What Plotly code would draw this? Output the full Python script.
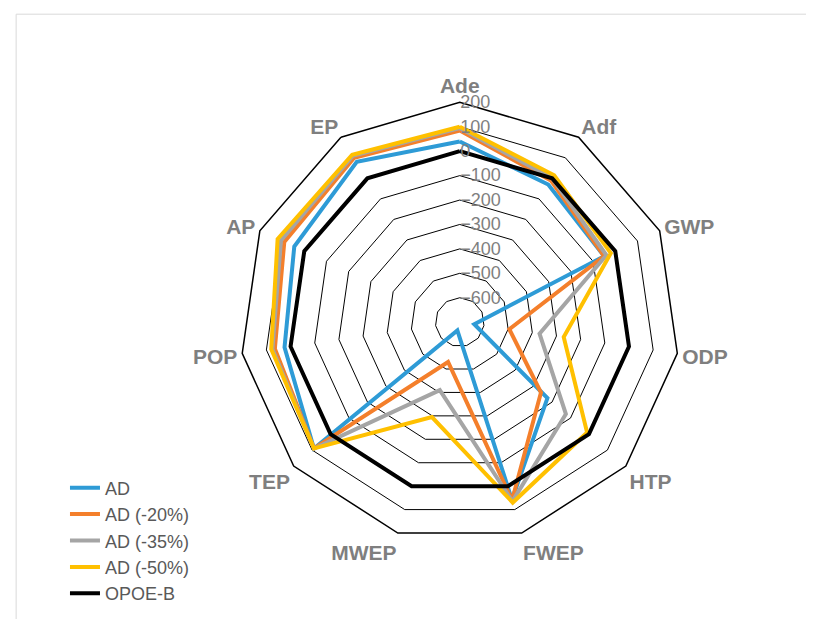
import plotly.graph_objects as go

cats = ["Ade","Adf","GWP","ODP","HTP","FWEP","MWEP","TEP","POP","AP","EP"]
ad    = [40, -30, -50, -640, -225, 58, -665, 90, 25, 45, 80]
ad20  = [85, -10, -50, -495, -260, 60, -530, 90, 65, 90, 100]
ad35  = [95, 0, -40, -370, -125, 65, -410, 90, 75, 105, 110]
ad50  = [100, 15, -20, -270, -10, 70, -295, 90, 80, 120, 115]
opoe  = [0, 0, 0, 0, 0, 0, 0, 0, 0, 0, 0]
names = ["AD","AD (-20%)","AD (-35%)","AD (-50%)","OPOE-B"]
colors = ["#2E9BD6","#F47F2B","#A5A5A5","#FFC000","#000000"]
ticks = [200,100,0,-100,-200,-300,-400,-500,-600]

fig = go.Figure()
for n, v, c in zip(names, [ad, ad20, ad35, ad50, opoe], colors):
    fig.add_trace(go.Scatterpolar(r=v+[v[0]], theta=cats+[cats[0]], mode="lines",
                                  name=n, line=dict(color=c, width=4)))
fig.update_layout(
    width=814, height=619, paper_bgcolor="white", plot_bgcolor="white",
    margin=dict(l=0,r=0,t=0,b=0),
    font=dict(family="Liberation Sans, Arial", color="#7F7F7F"),
    polar=dict(
        domain=dict(x=[0.285,0.825], y=[0.135,0.85]),
        gridshape="linear", bgcolor="white",
        angularaxis=dict(rotation=90, direction="clockwise", linecolor="black",
                         gridcolor="rgba(0,0,0,0)", showline=True, linewidth=1.5,
                         tickfont=dict(size=21, color="#7F7F7F", weight="bold"),
                         ticks=""),
        radialaxis=dict(range=[-700,200], tickvals=ticks, angle=90, tickangle=90,
                        showline=False, gridcolor="black", gridwidth=1.2,
                        tickfont=dict(size=18, color="#7F7F7F"), ticks=""),
    ),
    legend=dict(x=0.07, y=0.025, xanchor="left", yanchor="bottom",
                font=dict(size=18, color="#595959"), tracegroupgap=6),
    shapes=[dict(type="rect", xref="paper", yref="paper", x0=0.01, x1=0.995, y0=0.005, y1=0.99,
                 line=dict(color="#D9D9D9", width=1))],
)
fig.write_html("out.html")
